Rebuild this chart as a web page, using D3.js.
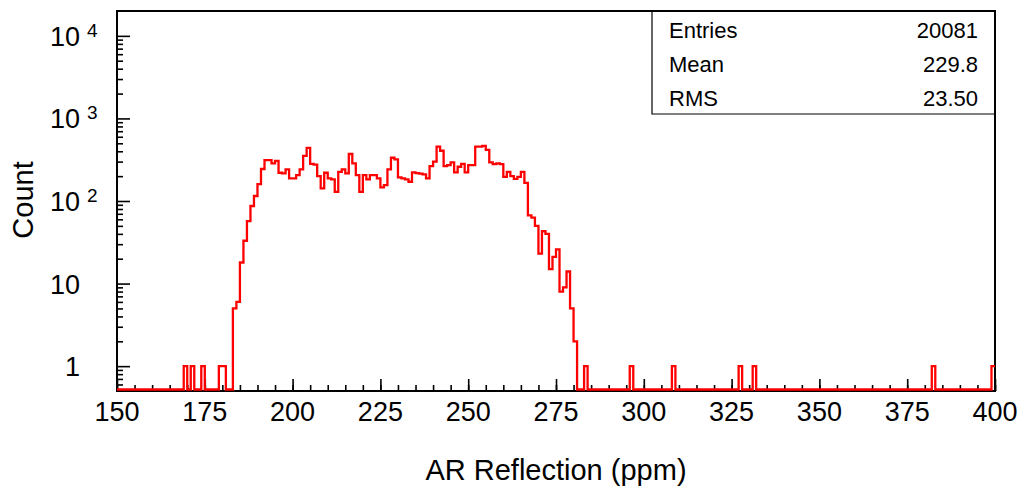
<!DOCTYPE html>
<html>
<head>
<meta charset="utf-8">
<script src="https://cdn.jsdelivr.net/npm/d3@7.9.0/dist/d3.min.js"></script>
<style>
  body { margin: 0; background: #fff; }
  svg { display: block; font-family: "Liberation Sans", Arial, Helvetica, sans-serif; }
</style>
</head>
<body>
<svg id="chart" width="1024" height="491"></svg>
<script>
// histogram: 250 bins of width 1 from 150 to 400
const xMin = 150;
const xMax = 400;
const binWidth = 1;

// bins 183..280 hold the bulk of the entries
const coreStart = 183;
const coreCounts = [
  5, 6, 18, 33, 57, 87, 115, 160, 244, 313,
  313, 285, 307, 220, 216, 242, 188, 188, 206, 242,
  351, 440, 281, 275, 200, 142, 220, 188, 183, 129,
  225, 242, 216, 371, 285, 206, 129, 206, 183, 206,
  206, 188, 146, 156, 242, 334, 320, 193, 188, 183,
  171, 222, 218, 214, 210, 188, 265, 299, 455, 406,
  265, 272, 294, 222, 260, 281, 222, 272, 272, 455,
  455, 464, 415, 294, 279, 285, 279, 196, 225, 200,
  185, 196, 225, 166, 67, 63, 50, 23, 43, 40,
  15, 21, 26, 8, 9, 14, 5, 2
];

// isolated bins with a single entry (lower edges)
const singleBins = [169, 171, 174, 179, 180, 283, 296, 308, 327, 331, 382, 399];

const statLabels = ['Entries', 'Mean', 'RMS'];
const statValues = ['20081', '229.8', '23.50'];

const xTicksMajor = [150, 175, 200, 225, 250, 275, 300, 325, 350, 375, 400];
const yDecades = [0, 1, 2, 3, 4];
const yMin = 0.5;
const yMax = 2.0e4;

// build the bin table
const nBins = (xMax - xMin) / binWidth;
const bins = d3.range(nBins).map(i => ({ x0: xMin + i * binWidth, n: 0 }));
coreCounts.forEach((c, i) => { bins[coreStart - xMin + i].n = c; });
singleBins.forEach(b => { bins[b - xMin].n += 1; });

const svg = d3.select('#chart');
const fLeft = 117, fRight = 995, fTop = 11, fBottom = 391;

const x = d3.scaleLinear().domain([xMin, xMax]).range([fLeft, fRight]);
const y = d3.scaleLog().domain([yMin, yMax]).range([fBottom, fTop]);

// clip to the frame
svg.append('clipPath').attr('id', 'frameClip')
  .append('rect')
  .attr('x', fLeft).attr('y', fTop)
  .attr('width', fRight - fLeft).attr('height', fBottom - fTop);

// ticks, drawn inward
const xMinor = d3.range(xMin, xMax + 0.1, 5);
svg.append('g')
  .attr('transform', `translate(0,${fBottom})`)
  .call(d3.axisBottom(x).tickValues(xMinor).tickSize(-6).tickFormat(''))
  .call(g => g.select('.domain').remove())
  .call(g => g.selectAll('line').attr('stroke-width', 1.6));
svg.append('g')
  .attr('transform', `translate(0,${fBottom})`)
  .call(d3.axisBottom(x).tickValues(xTicksMajor).tickSize(-12).tickFormat(''))
  .call(g => g.select('.domain').remove())
  .call(g => g.selectAll('line').attr('stroke-width', 1.6));

const yMinorVals = [];
[-1, 0, 1, 2, 3, 4].forEach(d => {
  d3.range(2, 10).forEach(m => {
    const v = m * Math.pow(10, d);
    if (v > yMin && v < yMax) yMinorVals.push(v);
  });
});
svg.append('g')
  .attr('transform', `translate(${fLeft},0)`)
  .call(d3.axisLeft(y).tickValues(yMinorVals).tickSize(-6).tickFormat(''))
  .call(g => g.select('.domain').remove())
  .call(g => g.selectAll('line').attr('stroke-width', 1.6));
svg.append('g')
  .attr('transform', `translate(${fLeft},0)`)
  .call(d3.axisLeft(y).tickValues(yDecades.map(d => Math.pow(10, d))).tickSize(-13).tickFormat(''))
  .call(g => g.select('.domain').remove())
  .call(g => g.selectAll('line').attr('stroke-width', 1.6));

// frame
svg.append('rect')
  .attr('x', fLeft).attr('y', fTop)
  .attr('width', fRight - fLeft).attr('height', fBottom - fTop)
  .attr('fill', 'none').attr('stroke', '#000').attr('stroke-width', 2);

// histogram outline
const pts = bins.map(b => [b.x0, b.n]);
pts.push([xMax, bins[bins.length - 1].n]);
const line = d3.line()
  .x(d => x(d[0]))
  .y(d => d[1] > 0 ? y(d[1]) : y(yMin) - 1.5)
  .curve(d3.curveStepAfter);
svg.append('path')
  .attr('clip-path', 'url(#frameClip)')
  .attr('d', line(pts))
  .attr('fill', 'none')
  .attr('stroke', '#ff0000')
  .attr('stroke-width', 2.3);

// stats box
const boxLeft = 652, boxBottom = 114;
svg.append('path')
  .attr('d', `M${boxLeft},${fTop}V${boxBottom}H${fRight}`)
  .attr('fill', 'none').attr('stroke', '#000').attr('stroke-width', 1.2);
statLabels.forEach((s, i) => {
  const cy = 30 + i * 34;
  svg.append('text').attr('x', 669).attr('y', cy + 8)
    .attr('font-size', 22).text(s);
  svg.append('text').attr('x', 978).attr('y', cy + 8)
    .attr('font-size', 22).attr('text-anchor', 'end').text(statValues[i]);
});

// x tick labels
svg.append('g').selectAll('text')
  .data(xTicksMajor)
  .join('text')
  .attr('x', d => x(d))
  .attr('y', fBottom + 30)
  .attr('text-anchor', 'middle')
  .attr('font-size', 27)
  .text(d => d);

// y tick labels with exponents
const yl = svg.append('g');
yDecades.forEach(d => {
  const ty = y(Math.pow(10, d));
  yl.append('text')
    .attr('x', 80).attr('y', ty + 10)
    .attr('text-anchor', 'end')
    .attr('font-size', 27)
    .text(d === 0 ? '1' : '10');
  if (d > 1) {
    yl.append('text')
      .attr('x', 87).attr('y', ty + 1)
      .attr('font-size', 19)
      .text(d);
  }
});

// axis titles
svg.append('text')
  .attr('x', 556).attr('y', 480)
  .attr('text-anchor', 'middle')
  .attr('font-size', 29)
  .text('AR Reflection (ppm)');
svg.append('text')
  .attr('transform', 'translate(33,200) rotate(-90)')
  .attr('text-anchor', 'middle')
  .attr('font-size', 29)
  .text('Count');
</script>
</body>
</html>
